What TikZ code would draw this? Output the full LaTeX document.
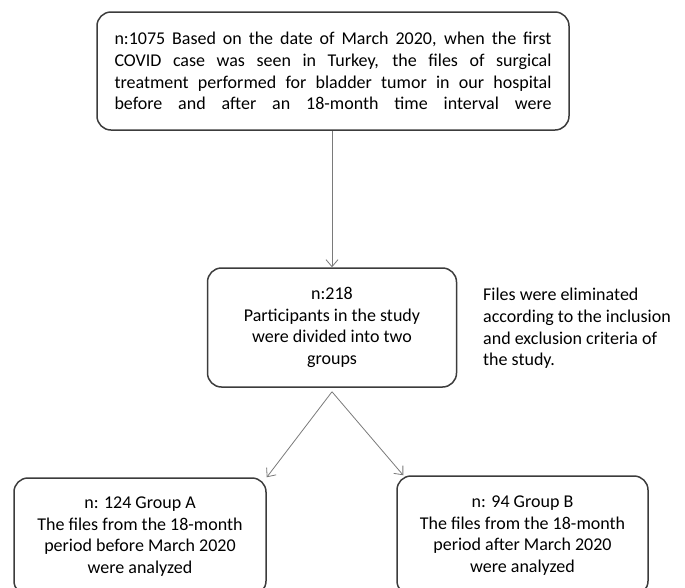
\documentclass[tikz,border=0pt]{standalone}
\usepackage{fontspec}
\setmainfont{Carlito}
\usetikzlibrary{arrows.meta, positioning}
\definecolor{boxgray}{HTML}{3C3C3C}
\definecolor{linkgray}{HTML}{7A7A7A}

\begin{document}
\begin{tikzpicture}[
  x=1pt, y=-1pt,
  box/.style={draw=boxgray, line width=1.5pt, rounded corners=14pt, align=center, inner sep=0pt},
  link/.style={draw=linkgray, line width=0.8pt, -{Straight Barb[length=7pt,width=12pt]}},
  font=\fontsize{18}{21.7}\selectfont]

  \useasboundingbox (0,0) rectangle (685,587);
  \clip (0,0) rectangle (685,587);

  \node[box, minimum width=472pt, minimum height=118pt, text width=437pt, align=justify](files) at (333,71)
	{n:1075 Based on the date of March 2020, when the first\linebreak
	COVID case was seen in Turkey, the files of surgical\linebreak
	treatment performed for bladder tumor in our hospital\linebreak
	\makebox[437pt][s]{before and after an 18-month time interval were}};
  \node[box, minimum width=249pt, minimum height=119pt](split) at (332,327.5)
	{n:218\\Participants in the study\\were divided into two\\groups};
  \node[anchor=north west, align=left, inner sep=0pt](note) at (483,288)
	{Files were eliminated\\according to the inclusion\\and exclusion criteria of\\the study.};
  \node[box, minimum width=252pt, minimum height=117pt](grpA) at (140,536.5)
	{n: 124 Group A\\The files from the 18-month\\period before March 2020\\were analyzed};
  \node[box, minimum width=251pt, minimum height=119pt](grpB) at (522.5,535.5)
	{n: 94 Group B\\The files from the 18-month\\period after March 2020\\were analyzed};

  \coordinate (fork) at ([yshift=-4pt]split.south);
  \draw[link] (files.south -| split.north) -- (split.north);
  \draw[link] (fork) -- (grpA.north east);
  \draw[link] (fork) -- ([xshift=7pt]grpB.north west);
\end{tikzpicture}
\end{document}
